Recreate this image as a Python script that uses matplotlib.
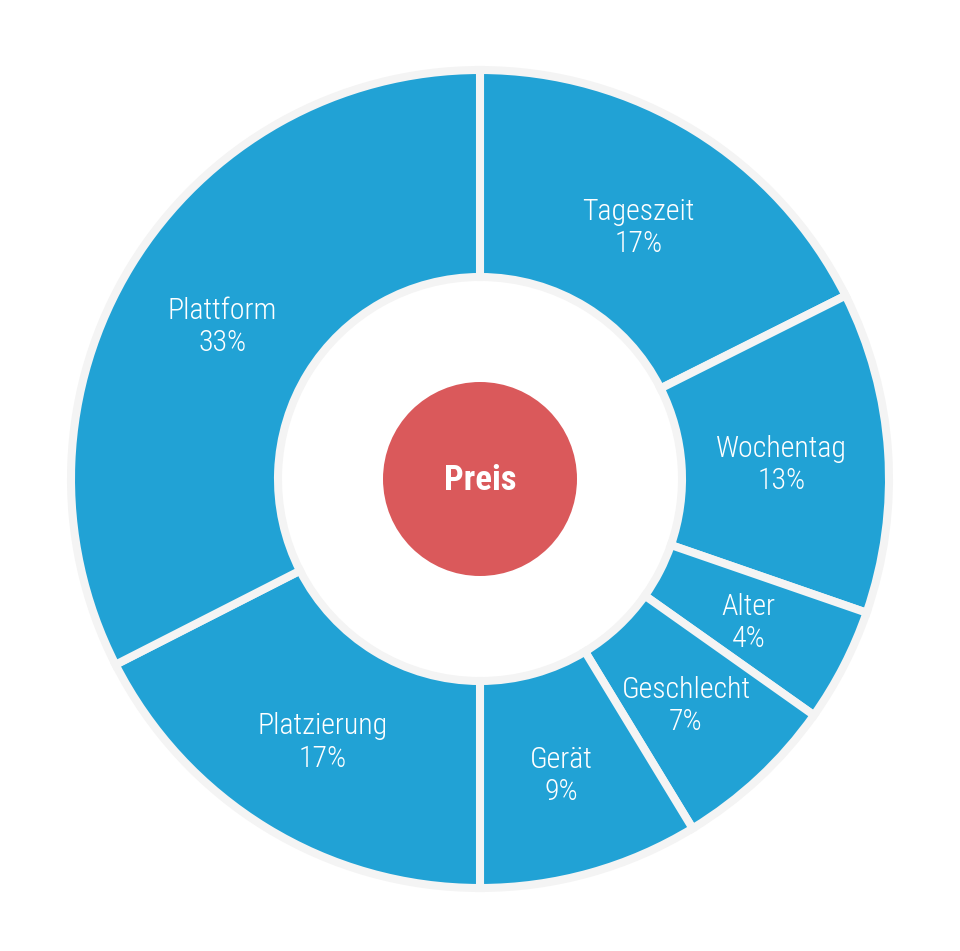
import matplotlib
matplotlib.use("Agg")
import matplotlib.pyplot as plt
import numpy as np
from matplotlib.patches import Circle

categories = ["Tageszeit", "Wochentag", "Alter", "Geschlecht", "Gerät", "Platzierung", "Plattform"]
values = [17.6, 12.7, 4.5, 6.5, 8.7, 17.5, 32.5]
labels_pct = ["17%", "13%", "4%", "7%", "9%", "17%", "33%"]
center_label = "Preis"

BLUE = "#21A2D5"
RED = "#DA595B"
EDGE = "#F4F4F4"
FONT = ["Roboto Condensed", "Roboto", "DejaVu Sans"]

W, H = 960, 951
fig = plt.figure(figsize=(W / 100, H / 100), dpi=100)
ax = fig.add_axes([0, 0, 1, 1])

cx, cy = 480, H - 479
R_out = 409
R_in = 202

ax.pie(values, center=(cx, cy), radius=R_out, startangle=90, counterclock=False,
       colors=[BLUE] * len(values),
       wedgeprops=dict(width=R_out - R_in, edgecolor=EDGE, linewidth=5.8),
       frame=True)
ax.set_xlim(0, W)
ax.set_ylim(0, H)
ax.set_aspect("equal")
ax.axis("off")

ax.add_patch(Circle((cx, cy), 97, facecolor=RED, edgecolor="none", zorder=5))
ax.text(cx, cy - 2, center_label, ha="center", va="center", color="white",
        fontsize=25, fontweight="bold", family=FONT, zorder=6)

total = sum(values)
cum = np.cumsum([0] + values[:-1])
r_lab = 302
for c, v, lab, pct in zip(cum, values, categories, labels_pct):
    mid = (c + v / 2) / total * 2 * np.pi
    x = cx + r_lab * np.sin(mid)
    y = cy + r_lab * np.cos(mid) - 6
    ax.text(x, y, lab + "\n" + pct, ha="center", va="center", color="white",
            fontsize=21.5, linespacing=1.2, family=FONT, fontweight="light", zorder=6)

fig.savefig("out.png", dpi=100, facecolor="white")
